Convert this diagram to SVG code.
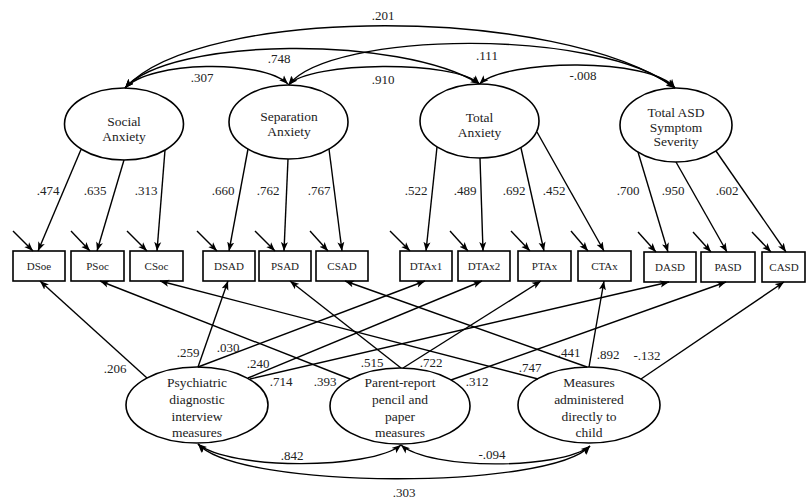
<svg xmlns="http://www.w3.org/2000/svg" width="807" height="500" viewBox="0 0 807 500">
<defs>
<marker id="ah" markerUnits="userSpaceOnUse" markerWidth="10" markerHeight="8" refX="9" refY="3.5" orient="auto-start-reverse" viewBox="0 0 10 7">
<path d="M0,0 L9,3.5 L0,7 L2.2,3.5 z" fill="#000"/>
</marker>
<style>
.lat{fill:#fff;stroke:#000;stroke-width:1.6}
.box{fill:#fff;stroke:#000;stroke-width:1.6}
.nt{font-family:"Liberation Serif","Times New Roman",serif;font-size:13.5px;fill:#222;text-anchor:middle}
.bt{font-family:"Liberation Serif","Times New Roman",serif;font-size:11px;fill:#222;text-anchor:middle}
.lb{font-family:"Liberation Serif","Times New Roman",serif;font-size:13px;fill:#222;text-anchor:middle}
.ln{fill:none;stroke:#000;stroke-width:1.4;marker-end:url(#ah)}
.cv{fill:none;stroke:#000;stroke-width:1.4;marker-start:url(#ah);marker-end:url(#ah)}
</style>
</defs>
<rect width="807" height="500" fill="#fff"/>

<g id="social-anxiety"><ellipse class="lat" cx="124" cy="124" rx="59.5" ry="36"/><text class="nt" x="124" y="126">Social</text><text class="nt" x="124" y="141">Anxiety</text></g>
<g id="separation-anxiety"><ellipse class="lat" cx="288.5" cy="122" rx="59.5" ry="37"/><text class="nt" x="289" y="121">Separation</text><text class="nt" x="289" y="136">Anxiety</text></g>
<g id="total-anxiety"><ellipse class="lat" cx="479.5" cy="121" rx="59.5" ry="37"/><text class="nt" x="479.5" y="121.5">Total</text><text class="nt" x="479.5" y="136.5">Anxiety</text></g>
<g id="total-asd"><ellipse class="lat" cx="676" cy="125" rx="56" ry="37"/><text class="nt" x="676" y="117">Total ASD</text><text class="nt" x="676" y="131.5">Symptom</text><text class="nt" x="676" y="146">Severity</text></g>

<g id="DSoe"><rect class="box" x="13" y="251" width="52" height="30"/><text class="bt" x="39" y="270">DSoe</text></g>
<g id="PSoc"><rect class="box" x="71" y="251" width="53" height="30"/><text class="bt" x="97.5" y="270">PSoc</text></g>
<g id="CSoc"><rect class="box" x="130" y="251" width="53" height="30"/><text class="bt" x="156.5" y="270">CSoc</text></g>
<g id="DSAD"><rect class="box" x="203" y="251" width="52" height="30"/><text class="bt" x="229" y="270">DSAD</text></g>
<g id="PSAD"><rect class="box" x="259" y="251" width="52" height="30"/><text class="bt" x="285" y="270">PSAD</text></g>
<g id="CSAD"><rect class="box" x="316" y="251" width="52" height="30"/><text class="bt" x="342" y="270">CSAD</text></g>
<g id="DTAx1"><rect class="box" x="400" y="251" width="52" height="30"/><text class="bt" x="426" y="270">DTAx1</text></g>
<g id="DTAx2"><rect class="box" x="458" y="251" width="52" height="30"/><text class="bt" x="484" y="270">DTAx2</text></g>
<g id="PTAx"><rect class="box" x="518" y="251" width="53" height="30"/><text class="bt" x="544.5" y="270">PTAx</text></g>
<g id="CTAx"><rect class="box" x="578" y="251" width="53" height="30"/><text class="bt" x="604.5" y="270">CTAx</text></g>
<g id="DASD"><rect class="box" x="644" y="252" width="52" height="30"/><text class="bt" x="670" y="271">DASD</text></g>
<g id="PASD"><rect class="box" x="701" y="252" width="54" height="30"/><text class="bt" x="728" y="271">PASD</text></g>
<g id="CASD"><rect class="box" x="762" y="252" width="43" height="30"/><text class="bt" x="784" y="271">CASD</text></g>

<g id="psychiatric"><ellipse class="lat" cx="197" cy="405" rx="71" ry="38"/><text class="nt" x="197" y="386.5">Psychiatric</text><text class="nt" x="197" y="403.5">diagnostic</text><text class="nt" x="197" y="420.5">interview</text><text class="nt" x="197" y="437">measures</text></g>
<g id="parent-report"><ellipse class="lat" cx="400" cy="406" rx="70" ry="38"/><text class="nt" x="400" y="386.5">Parent-report</text><text class="nt" x="400" y="403.5">pencil and</text><text class="nt" x="400" y="420.5">paper</text><text class="nt" x="400" y="437">measures</text></g>
<g id="direct-child"><ellipse class="lat" cx="589" cy="405" rx="71" ry="38"/><text class="nt" x="589" y="386.5">Measures</text><text class="nt" x="589" y="403.5">administered</text><text class="nt" x="589" y="420.5">directly to</text><text class="nt" x="589" y="437">child</text></g>

<g id="connectors">
<!-- latent covariances -->
<path class="cv" d="M125,88 C150,61 262,59 288,84"/>
<path class="cv" d="M125,88 C170,37 400,35 479.5,84"/>
<path class="cv" d="M125,88 C200,5 560,5 675,88"/>
<path class="cv" d="M288.5,85 C310,61 455,60 479.5,84"/>
<path class="cv" d="M288.5,85 C330,31 600,27 675,88"/>
<path class="cv" d="M479.5,84 C505,59 650,57 675,88"/>
<!-- trait loadings -->
<path class="ln" d="M81,149.5 L38,251"/>
<path class="ln" d="M124,160 L97,251"/>
<path class="ln" d="M165,150 L157,251"/>
<path class="ln" d="M248,149 L229,251"/>
<path class="ln" d="M288,159 L284,251"/>
<path class="ln" d="M329,149 L342,251"/>
<path class="ln" d="M437,147 L426,251"/>
<path class="ln" d="M480,158 L483,251"/>
<path class="ln" d="M521,148 L544,251"/>
<path class="ln" d="M537,132 L604,251"/>
<path class="ln" d="M638,152 L668,252"/>
<path class="ln" d="M676,162 L727,252"/>
<path class="ln" d="M716,151 L786,252"/>
<!-- residuals -->
<path class="ln" d="M13,231 L33,251"/>
<path class="ln" d="M71,231 L90,251"/>
<path class="ln" d="M127,231 L147,251"/>
<path class="ln" d="M197,231 L217,251"/>
<path class="ln" d="M255,231 L275,251"/>
<path class="ln" d="M310,231 L328,251"/>
<path class="ln" d="M390,231 L410,251"/>
<path class="ln" d="M450,231 L468,251"/>
<path class="ln" d="M511,231 L530,251"/>
<path class="ln" d="M571,231 L588,251"/>
<path class="ln" d="M638,232 L656,252"/>
<path class="ln" d="M693,232 L711,252"/>
<path class="ln" d="M752,232 L771,252"/>
<!-- method loadings -->
<path class="ln" d="M147,378 L40,281"/>
<path class="ln" d="M198,367 L228,281"/>
<path class="ln" d="M198,367 L425,281"/>
<path class="ln" d="M248,378 L482,281"/>
<path class="ln" d="M250,379 L669,282"/>
<path class="ln" d="M350,379 L100,281"/>
<path class="ln" d="M401,368 L290,281"/>
<path class="ln" d="M403,368 L541,281"/>
<path class="ln" d="M451,380 L726,282"/>
<path class="ln" d="M538,379 L160,281"/>
<path class="ln" d="M587,367 L345,281"/>
<path class="ln" d="M589,367 L604,281"/>
<path class="ln" d="M641,379 L784,282"/>
<!-- method covariances -->
<path class="cv" d="M198,444 C230,470 370,470 401,445"/>
<path class="cv" d="M198,444 C240,490 550,490 590,446"/>
<path class="cv" d="M401,445 C430,470 560,470 590,446"/>
</g>

<g id="labels">
<text class="lb" x="202" y="82">.307</text>
<text class="lb" x="279" y="63">.748</text>
<text class="lb" x="383" y="20">.201</text>
<text class="lb" x="383" y="84">.910</text>
<text class="lb" x="487" y="60">.111</text>
<text class="lb" x="583" y="80">-.008</text>
<text class="lb" x="48" y="195">.474</text>
<text class="lb" x="95" y="195">.635</text>
<text class="lb" x="146" y="195">.313</text>
<text class="lb" x="223" y="195">.660</text>
<text class="lb" x="268" y="195">.762</text>
<text class="lb" x="319" y="195">.767</text>
<text class="lb" x="416" y="195">.522</text>
<text class="lb" x="465" y="195">.489</text>
<text class="lb" x="514" y="195">.692</text>
<text class="lb" x="554" y="195">.452</text>
<text class="lb" x="628" y="195">.700</text>
<text class="lb" x="673" y="195">.950</text>
<text class="lb" x="727" y="195">.602</text>
<text class="lb" x="115" y="373">.206</text>
<text class="lb" x="188" y="357">.259</text>
<text class="lb" x="228" y="352">.030</text>
<text class="lb" x="258" y="368">.240</text>
<text class="lb" x="281" y="386">.714</text>
<text class="lb" x="325" y="386">.393</text>
<text class="lb" x="372" y="367">.515</text>
<text class="lb" x="431" y="367">.722</text>
<text class="lb" x="477" y="386">.312</text>
<text class="lb" x="530" y="372">.747</text>
<text class="lb" x="569" y="357">.441</text>
<text class="lb" x="608" y="359">.892</text>
<text class="lb" x="647" y="360">-.132</text>
<text class="lb" x="292" y="460">.842</text>
<text class="lb" x="492" y="459">-.094</text>
<text class="lb" x="404" y="497">.303</text>
</g>
</svg>
